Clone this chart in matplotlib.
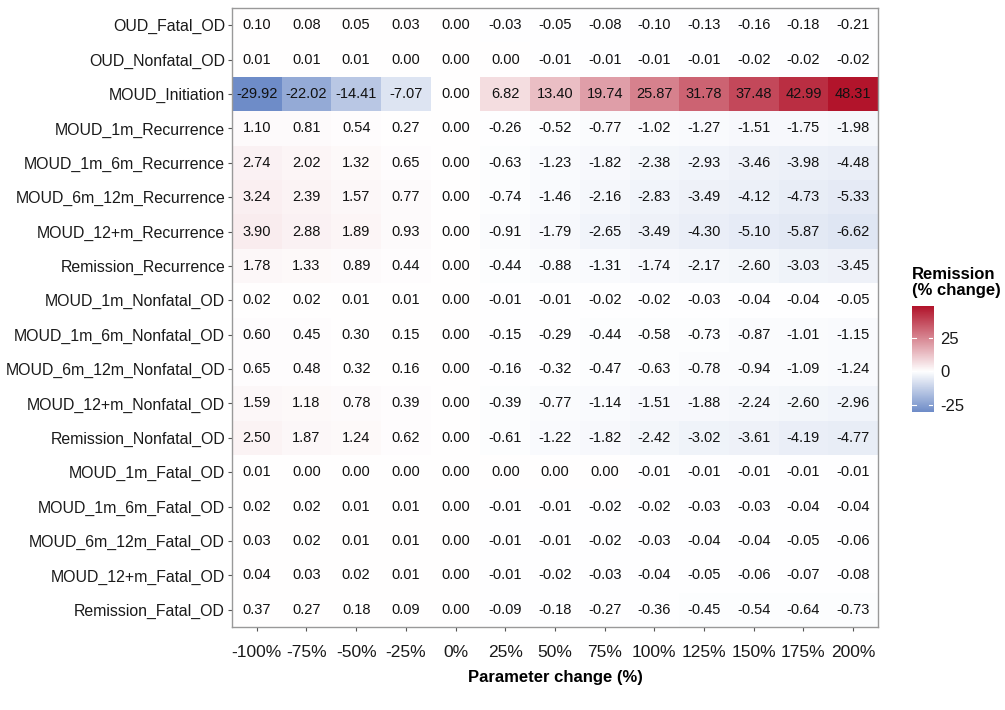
import numpy as np
import matplotlib
matplotlib.use("Agg")
import matplotlib.pyplot as plt
from matplotlib.colors import LinearSegmentedColormap, Normalize

plt.rcParams["font.family"] = ["Liberation Sans", "DejaVu Sans"]
plt.rcParams["axes.unicode_minus"] = False

# parameters (rows, top to bottom) and percent changes (columns)
params = [
    "OUD_Fatal_OD", "OUD_Nonfatal_OD", "MOUD_Initiation", "MOUD_1m_Recurrence",
    "MOUD_1m_6m_Recurrence", "MOUD_6m_12m_Recurrence", "MOUD_12+m_Recurrence",
    "Remission_Recurrence", "MOUD_1m_Nonfatal_OD", "MOUD_1m_6m_Nonfatal_OD",
    "MOUD_6m_12m_Nonfatal_OD", "MOUD_12+m_Nonfatal_OD", "Remission_Nonfatal_OD",
    "MOUD_1m_Fatal_OD", "MOUD_1m_6m_Fatal_OD", "MOUD_6m_12m_Fatal_OD",
    "MOUD_12+m_Fatal_OD", "Remission_Fatal_OD",
]
changes = ["-100%", "-75%", "-50%", "-25%", "0%", "25%", "50%", "75%",
           "100%", "125%", "150%", "175%", "200%"]

oud_fatal = [0.10, 0.08, 0.05, 0.03, 0.00, -0.03, -0.05, -0.08, -0.10, -0.13, -0.16, -0.18, -0.21]
oud_nonfatal = [0.01, 0.01, 0.01, 0.00, 0.00, 0.00, -0.01, -0.01, -0.01, -0.01, -0.02, -0.02, -0.02]
moud_init = [-29.92, -22.02, -14.41, -7.07, 0.00, 6.82, 13.40, 19.74, 25.87, 31.78, 37.48, 42.99, 48.31]
moud_1m_rec = [1.10, 0.81, 0.54, 0.27, 0.00, -0.26, -0.52, -0.77, -1.02, -1.27, -1.51, -1.75, -1.98]
moud_1m6m_rec = [2.74, 2.02, 1.32, 0.65, 0.00, -0.63, -1.23, -1.82, -2.38, -2.93, -3.46, -3.98, -4.48]
moud_6m12m_rec = [3.24, 2.39, 1.57, 0.77, 0.00, -0.74, -1.46, -2.16, -2.83, -3.49, -4.12, -4.73, -5.33]
moud_12m_rec = [3.90, 2.88, 1.89, 0.93, 0.00, -0.91, -1.79, -2.65, -3.49, -4.30, -5.10, -5.87, -6.62]
remission_rec = [1.78, 1.33, 0.89, 0.44, 0.00, -0.44, -0.88, -1.31, -1.74, -2.17, -2.60, -3.03, -3.45]
moud_1m_nf = [0.02, 0.02, 0.01, 0.01, 0.00, -0.01, -0.01, -0.02, -0.02, -0.03, -0.04, -0.04, -0.05]
moud_1m6m_nf = [0.60, 0.45, 0.30, 0.15, 0.00, -0.15, -0.29, -0.44, -0.58, -0.73, -0.87, -1.01, -1.15]
moud_6m12m_nf = [0.65, 0.48, 0.32, 0.16, 0.00, -0.16, -0.32, -0.47, -0.63, -0.78, -0.94, -1.09, -1.24]
moud_12m_nf = [1.59, 1.18, 0.78, 0.39, 0.00, -0.39, -0.77, -1.14, -1.51, -1.88, -2.24, -2.60, -2.96]
remission_nf = [2.50, 1.87, 1.24, 0.62, 0.00, -0.61, -1.22, -1.82, -2.42, -3.02, -3.61, -4.19, -4.77]
moud_1m_fatal = [0.01, 0.00, 0.00, 0.00, 0.00, 0.00, 0.00, 0.00, -0.01, -0.01, -0.01, -0.01, -0.01]
moud_1m6m_fatal = [0.02, 0.02, 0.01, 0.01, 0.00, -0.01, -0.01, -0.02, -0.02, -0.03, -0.03, -0.04, -0.04]
moud_6m12m_fatal = [0.03, 0.02, 0.01, 0.01, 0.00, -0.01, -0.01, -0.02, -0.03, -0.04, -0.04, -0.05, -0.06]
moud_12m_fatal = [0.04, 0.03, 0.02, 0.01, 0.00, -0.01, -0.02, -0.03, -0.04, -0.05, -0.06, -0.07, -0.08]
remission_fatal = [0.37, 0.27, 0.18, 0.09, 0.00, -0.09, -0.18, -0.27, -0.36, -0.45, -0.54, -0.64, -0.73]

values = np.array([
    oud_fatal, oud_nonfatal, moud_init, moud_1m_rec, moud_1m6m_rec, moud_6m12m_rec,
    moud_12m_rec, remission_rec, moud_1m_nf, moud_1m6m_nf, moud_6m12m_nf,
    moud_12m_nf, remission_nf, moud_1m_fatal, moud_1m6m_fatal, moud_6m12m_fatal,
    moud_12m_fatal, remission_fatal,
])

# diverging scale around 0, symmetric in magnitude
cmap = LinearSegmentedColormap.from_list("div", ["#1646a6", "#ffffff", "#b2142b"])
lim = np.abs(values).max()
norm = Normalize(-lim, lim)

fig = plt.figure(figsize=(10.05, 7.10), dpi=100)
ax = fig.add_axes([0.2308, 0.1169, 0.6428, 0.8718])

nr, nc = values.shape
ax.pcolormesh(np.arange(nc + 1) - 0.5, np.arange(nr + 1) - 0.5, values,
              cmap=cmap, norm=norm, shading="flat")
for i in range(nr):
    for j in range(nc):
        ax.text(j, i, f"{values[i, j]:.2f}", ha="center", va="center",
                fontsize=10.5, color="#111111")

ax.set_xlim(-0.5, nc - 0.5)
ax.set_ylim(nr - 0.5, -0.5)
ax.set_xticks(range(nc))
ax.set_xticklabels(changes, fontsize=12.5, color="#1a1a1a")
ax.set_yticks(range(nr))
ax.set_yticklabels(params, fontsize=11.4, color="#1a1a1a")
ax.tick_params(length=3, width=0.8, color="#555555")
ax.tick_params(axis="x", pad=10)
ax.tick_params(axis="y", pad=2)
for s in ax.spines.values():
    s.set_color("#999999")
    s.set_linewidth(1)
ax.set_xlabel("Parameter change (%)", fontsize=12, fontweight="bold", labelpad=7)

# legend bar over the data range
cax = fig.add_axes([0.9075, 0.42, 0.021, 0.149])
lo, hi = values.min(), values.max()
grad = np.linspace(lo, hi, 256).reshape(-1, 1)
cax.imshow(grad, cmap=cmap, norm=norm, aspect="auto", origin="lower",
           extent=[0, 1, lo, hi])
cax.set_xticks([])
cax.yaxis.tick_right()
cax.set_yticks([-25, 0, 25])
cax.tick_params(axis="y", length=0, labelsize=12, labelcolor="#1a1a1a", pad=5)
for t in [-25, 0, 25]:
    cax.plot([0, 0.2], [t, t], color="white", lw=0.8)
    cax.plot([0.8, 1], [t, t], color="white", lw=0.8)
for s in cax.spines.values():
    s.set_visible(False)
fig.text(0.907, 0.58, "Remission\n(% change)", fontsize=12, fontweight="bold",
         ha="left", va="bottom", linespacing=1.1)

fig.savefig("out.png", dpi=100)
